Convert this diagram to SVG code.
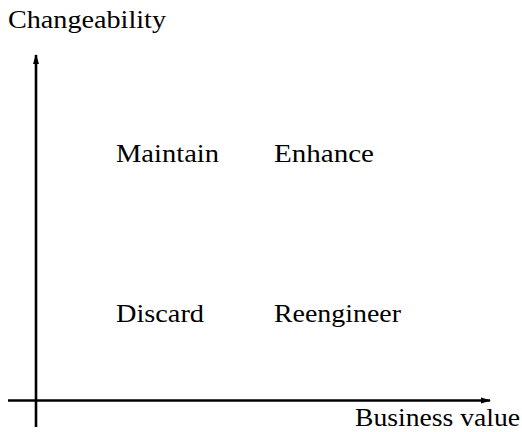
<svg xmlns="http://www.w3.org/2000/svg" width="522" height="432" viewBox="0 0 522 432">
<style>
.axis{stroke:#000;stroke-width:2.6;fill:none}
</style>
<defs>
<marker id="ah" viewBox="0 0 10 6" refX="9" refY="3" markerWidth="4" markerHeight="2.4" orient="auto" markerUnits="strokeWidth">
<path d="M0,0 L10,3 L0,6 z" fill="#000"/>
</marker>
</defs>
<rect width="522" height="432" fill="#fff"/>
<g id="connectors">
<line class="axis" x1="36" y1="427" x2="36" y2="55" marker-end="url(#ah)"/>
<line class="axis" x1="8" y1="400.5" x2="490" y2="400.5" marker-end="url(#ah)"/>
</g>
<g font-family="Liberation Serif, DejaVu Serif, serif" font-size="25" fill="#000">
<g id="ylabel"><text x="8" y="27.5" textLength="158" lengthAdjust="spacingAndGlyphs">Changeability</text></g>
<g id="xlabel"><text x="355" y="426" textLength="165" lengthAdjust="spacingAndGlyphs">Business value</text></g>
<g id="maintain"><text x="116" y="162" textLength="103" lengthAdjust="spacingAndGlyphs">Maintain</text></g>
<g id="enhance"><text x="274" y="162" textLength="100" lengthAdjust="spacingAndGlyphs">Enhance</text></g>
<g id="discard"><text x="116" y="321.5" textLength="88" lengthAdjust="spacingAndGlyphs">Discard</text></g>
<g id="reengineer"><text x="274" y="321.5" textLength="127" lengthAdjust="spacingAndGlyphs">Reengineer</text></g>
</g>
</svg>
